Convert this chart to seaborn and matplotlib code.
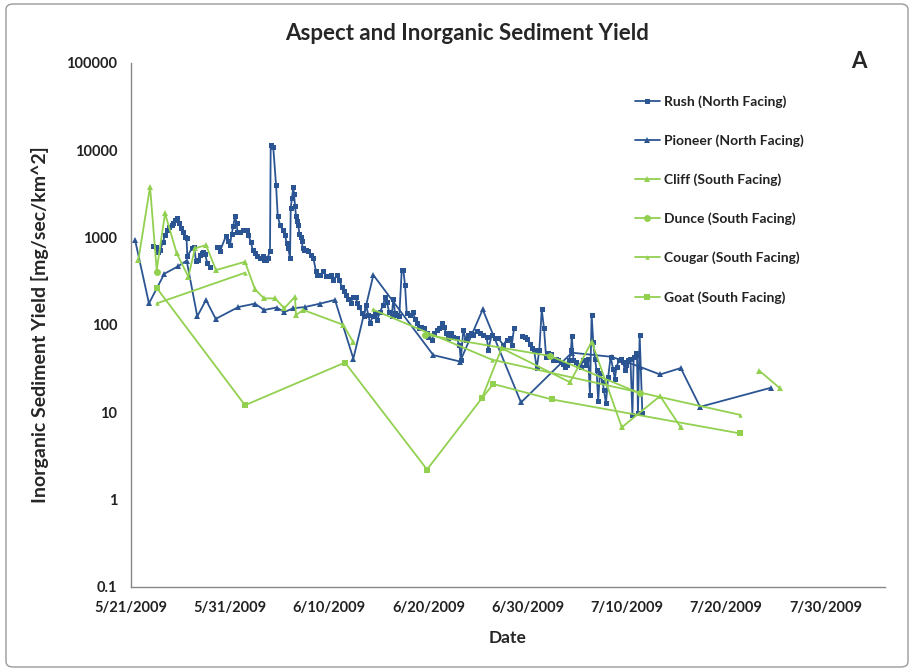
import numpy as np
import pandas as pd
import matplotlib
matplotlib.use("Agg")
import matplotlib.pyplot as plt
from matplotlib.lines import Line2D
from matplotlib.patches import FancyBboxPatch
import seaborn as sns

START = pd.Timestamp("2009-05-21")

# Rush (North Facing): three logger segments with gaps in between
rush_day_a = [2.22, 2.52, 2.72, 2.92, 3.23, 3.43, 3.63, 3.83, 4.13, 4.26, 4.44, 4.67, 4.87, 5.01,
              5.21, 5.44, 5.6, 5.68, 6.12, 6.35, 6.55, 6.78, 6.96, 7.13, 7.29, 7.46, 7.69, 7.96]
rush_val_a = [800, 780, 680, 720, 890, 1070, 1220, 1310, 1390, 1450, 1590, 1660, 1450, 1280,
              1170, 1020, 980, 610, 750, 790, 540, 560, 630, 660, 680, 650, 510, 460]
rush_day_b = [8.64, 8.90, 8.97, 9.58, 9.81, 9.98, 10.15, 10.31, 10.48, 10.66, 10.72, 10.99, 11.32,
              11.66, 11.82, 12.07, 12.27, 12.5, 12.73, 13.0, 13.27, 13.44, 13.61, 13.78, 14.01,
              14.08, 14.34, 14.62, 14.79, 15.02, 15.29, 15.52, 15.7, 15.86, 16.03, 16.1, 16.23,
              16.36, 16.43, 16.53, 16.63, 16.76, 16.86, 16.97, 17.11, 17.21, 17.31, 17.44, 17.64,
              17.87, 18.11, 18.38, 18.65, 18.78, 19.05, 19.38, 19.66, 19.93, 20.13, 20.39, 20.8,
              21.0, 21.24, 21.47, 21.67, 21.9, 22.15, 22.41, 22.65, 22.81, 23.02, 23.26, 23.49,
              23.69, 23.92, 24.09, 24.37, 24.6, 24.83, 25.1, 25.43, 25.6, 25.77, 26.01, 26.28,
              26.44, 26.61, 26.84, 27.04, 27.29, 27.45, 27.62, 27.79, 28.12, 28.4, 28.63, 28.86,
              29.06, 29.2, 29.54, 29.81, 29.97, 30.31, 30.54, 30.82, 31.08, 31.32, 31.55, 31.75,
              31.99, 32.23, 32.49, 32.83, 33.1, 33.24, 33.5, 33.74, 34.0, 34.24, 34.5, 34.85,
              35.18, 35.51, 35.85, 36.01, 36.36, 36.69, 37.02, 37.53, 37.87, 38.21, 38.38, 38.61]
rush_val_b = [790, 780, 700, 1050, 910, 820, 1110, 1350, 1770, 1450, 1170, 1170, 1220, 1220, 1070,
              900, 720, 660, 610, 580, 620, 552, 552, 590, 700, 11500, 10800, 3990, 1770, 1390,
              1220, 1070, 860, 750, 580, 2200, 2870, 3750, 3130, 2330, 1770, 1540, 1390, 1110,
              1020, 910, 750, 720, 720, 700, 630, 580, 410, 372, 372, 410, 365, 365, 372, 330,
              372, 326, 275, 245, 220, 197, 180, 210, 210, 177, 162, 137, 125, 169, 130, 104,
              125, 137, 114, 142, 169, 210, 185, 142, 125, 200, 137, 130, 125, 424, 424, 286,
              137, 130, 140, 118, 104, 91, 95, 91, 80, 73, 67, 80, 87, 91, 104, 95, 80, 70, 80,
              73, 70, 59, 40, 87, 67, 77, 80, 77, 85, 80, 77, 73, 52, 77, 70, 70, 59, 67, 70,
              59, 91]
rush_day_c = [39.39, 39.72, 39.95, 40.22, 40.39, 40.62, 40.9, 41.16, 41.4, 41.63, 41.84, 42.07,
              42.31, 42.57, 42.84, 43.07, 43.32, 43.52, 43.75, 43.98, 44.18, 44.35, 44.43, 44.59,
              44.86, 45.09, 45.33, 45.59, 45.86, 46.09, 46.26, 46.43, 46.59, 46.76, 46.93, 47.09,
              47.26, 47.54, 47.67, 47.87, 48.1, 48.34, 48.6, 48.77, 48.94, 49.2, 49.44, 49.6,
              49.77, 49.94, 50.1, 50.34, 50.54, 50.67, 50.87, 51.0, 51.1, 51.27, 51.54]
rush_val_c = [75, 73, 69, 61, 54, 52, 32, 52, 150, 91, 43, 47, 46, 40, 41, 40, 38, 36, 33, 35, 40,
              52, 75, 40, 38, 35, 33, 40, 35, 41, 15.7, 130, 64, 41, 30, 13.3, 28, 22, 18, 12.6,
              25.5, 43, 31, 24, 33, 40, 41, 38, 30, 35, 40, 41, 9.3, 43, 47, 45, 9.9, 77, 9.9]

# Pioneer (North Facing)
pioneer_day = [0.4, 1.81, 3.36, 4.77, 5.61, 6.68, 7.56, 8.54, 10.82, 12.5, 13.41, 14.69, 15.45,
               16.36, 17.54, 19.05, 20.56, 22.41, 24.43, 30.47, 33.17, 35.45, 39.31, 44.43, 48.46,
               51.31, 53.33, 55.41, 57.36, 64.48]
pioneer_val = [950, 176, 385, 470, 545, 125, 193, 117, 160, 175, 148, 158, 140, 155, 160, 175, 193,
               41, 372, 45, 38, 150, 12.9, 48, 43, 33, 27, 32, 11.5, 19]

# Cliff (South Facing): early run, mid-July run, late pair
cliff_day_a = [0.74, 1.92, 2.59, 3.43, 4.61, 5.78, 6.45, 7.56, 8.57, 11.49, 12.5, 13.41, 14.52,
               15.45, 16.53, 16.63, 17.37, 21.4, 22.41]
cliff_val_a = [552, 3820, 424, 1890, 660, 356, 752, 820, 424, 528, 255, 201, 201, 155, 210, 130,
               148, 100, 63]
cliff_day_b = [35.38, 37.36, 44.25, 46.44, 49.47, 53.33, 55.41]
cliff_val_b = [14.5, 54, 22, 64, 6.7, 15.3, 6.7]
cliff_day_c = [63.34, 65.42]
cliff_val_c = [29.8, 18.7]

# Dunce (South Facing)
dunce_day_a = [2.59]
dunce_val_a = [405]
dunce_day_b = [29.64, 42.24, 51.31]
dunce_val_b = [77, 44, 16.4]

# Cougar (South Facing)
cougar_day_a = [2.59, 11.49]
cougar_val_a = [176, 395]
cougar_day_b = [24.35, 36.36, 61.4]
cougar_val_b = [150, 40, 9.3]

# Goat (South Facing)
goat_day = [2.59, 11.49, 21.57, 29.84, 35.38, 36.52, 42.4, 61.39]
goat_val = [265, 12, 37, 2.2, 14.5, 21, 14, 5.7]

BLUE = "#2B5592"
GREEN = "#92D050"

series = [
    ("Rush (North Facing)", [(rush_day_a, rush_val_a), (rush_day_b, rush_val_b),
                             (rush_day_c, rush_val_c)], BLUE, "s", 3.6),
    ("Pioneer (North Facing)", [(pioneer_day, pioneer_val)], BLUE, "^", 4.2),
    ("Cliff (South Facing)", [(cliff_day_a, cliff_val_a), (cliff_day_b, cliff_val_b),
                              (cliff_day_c, cliff_val_c)], GREEN, "^", 4.0),
    ("Dunce (South Facing)", [(dunce_day_a, dunce_val_a), (dunce_day_b, dunce_val_b)],
     GREEN, "o", 5.0),
    ("Cougar (South Facing)", [(cougar_day_a, cougar_val_a), (cougar_day_b, cougar_val_b)],
     GREEN, "^", 3.2),
    ("Goat (South Facing)", [(goat_day, goat_val)], GREEN, "s", 4.0),
]

sns.set_theme(style="white")
plt.rcParams["font.family"] = ["Lato", "DejaVu Sans"]

fig = plt.figure(figsize=(9.14, 6.71), dpi=100)
ax = fig.add_axes([131 / 914, 1 - 586.7 / 671, (885 - 131) / 914, (586.7 - 63) / 671])

for name, parts, color, marker, ms in series:
    rows = []
    for k, (d, v) in enumerate(parts):
        rows.append(pd.DataFrame({"date": START + pd.to_timedelta(d, unit="D"),
                                  "value": v, "segment": k}))
    df = pd.concat(rows, ignore_index=True)
    sns.lineplot(data=df, x="date", y="value", units="segment", estimator=None, sort=False,
                 color=color, marker=marker, markersize=ms, markeredgewidth=0,
                 linewidth=1.3, ax=ax, legend=False)

ax.set_yscale("log")
ax.set_ylim(0.1, 100000)
ax.set_xlim(START, START + pd.Timedelta(days=76))
yt = [0.1, 1, 10, 100, 1000, 10000, 100000]
ax.set_yticks(yt)
ax.set_yticklabels(["0.1", "1", "10", "100", "1000", "10000", "100000"])
ax.yaxis.set_minor_locator(matplotlib.ticker.NullLocator())
xt = [START + pd.Timedelta(days=10 * i) for i in range(8)]
ax.set_xticks(xt)
ax.set_xticklabels([f"{t.month}/{t.day}/{t.year}" for t in xt])

for s in ["top", "right"]:
    ax.spines[s].set_visible(False)
for s in ["left", "bottom"]:
    ax.spines[s].set_color("#888888")
    ax.spines[s].set_linewidth(1.0)
ax.tick_params(axis="both", which="major", direction="out", length=4, width=1,
               color="#888888", labelsize=10.5, pad=6)
for lab in ax.get_xticklabels() + ax.get_yticklabels():
    lab.set_fontweight("bold")
    lab.set_color("#222222")
ax.grid(False)

ax.set_xlabel("Date", fontsize=12.5, fontweight="bold", labelpad=11)
ax.set_ylabel("Inorganic Sediment Yield [mg/sec/km^2]", fontsize=14, fontweight="bold",
              labelpad=12)

fig.text(467 / 914, 1 - 33 / 671, "Aspect and Inorganic Sediment Yield", ha="center",
         va="center", fontsize=16, fontweight="bold")
fig.text(859 / 914, 1 - 62 / 671, "A", ha="center", va="center", fontsize=16, fontweight="bold")

handles = [Line2D([0], [0], color=c, marker=m, markersize=ms, markeredgewidth=0, linewidth=1.3)
           for _, _, c, m, ms in series]
leg = ax.legend(handles, [s[0] for s in series], loc="upper left",
                bbox_to_anchor=(629 / 914, 1 - 90 / 671), bbox_transform=fig.transFigure,
                frameon=False, fontsize=10, handlelength=1.8, handletextpad=0.3,
                labelspacing=1.9, borderaxespad=0)
for t in leg.get_texts():
    t.set_fontweight("bold")
    t.set_color("#222222")

fig.patches.append(FancyBboxPatch((6 / 914, 4 / 671), 902 / 914, 663 / 671,
                                  boxstyle="round,pad=0,rounding_size=0.008",
                                  transform=fig.transFigure, fill=False,
                                  edgecolor="#9a9a9a", linewidth=1.0))

fig.savefig("out.png", dpi=100)
